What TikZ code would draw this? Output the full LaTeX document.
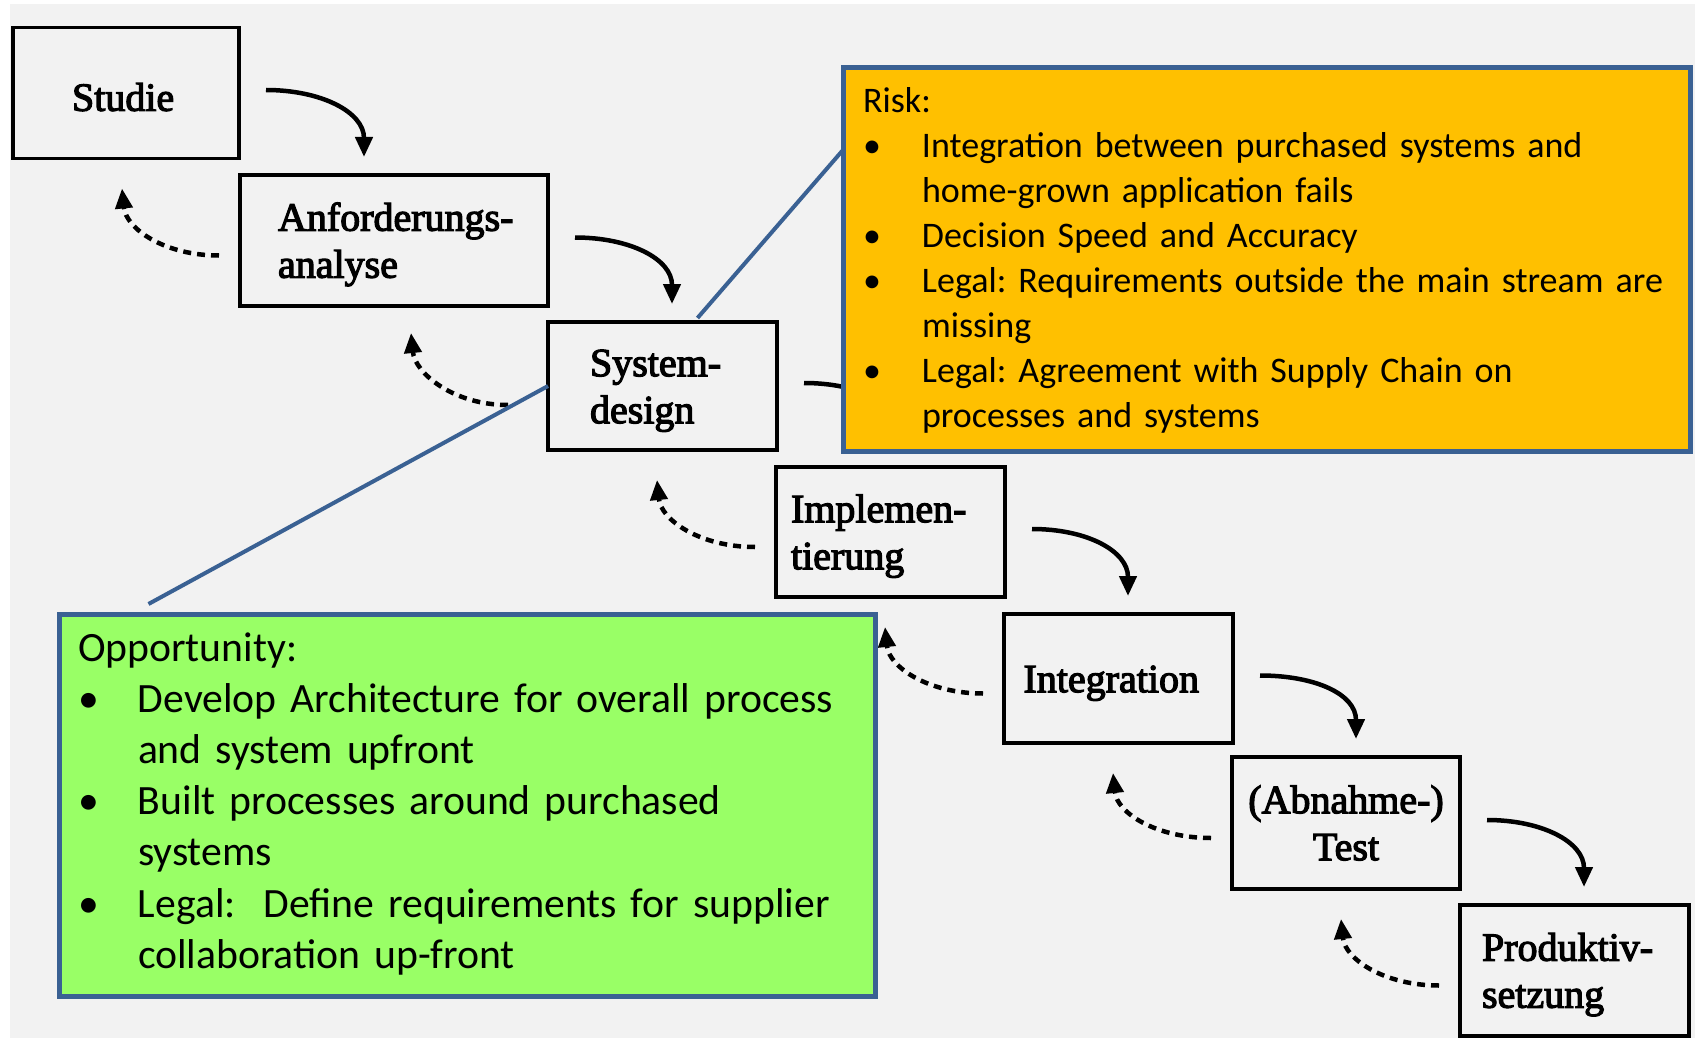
\documentclass[tikz,border=0pt]{standalone}
\usepackage{fontspec}
\setmainfont{Liberation Serif}
\newfontfamily\stepfont{Liberation Serif}[FakeBold=3]
\newfontfamily\notefont{Carlito}
\usetikzlibrary{arrows.meta,calc}

\definecolor{pagegray}{HTML}{F2F2F2}
\definecolor{frameblue}{HTML}{3A6193}
\definecolor{riskorange}{HTML}{FFC000}
\definecolor{oppgreen}{HTML}{99FF66}

% bullet with a fixed indent, and the matching indent for wrapped lines
\newcommand{\bul}[1]{\makebox[#1][l]{•}}
\newcommand{\ind}[1]{\hspace*{#1}}

\begin{document}
\frenchspacing
\begin{tikzpicture}[x=1pt,y=-1pt,
  stepbox/.style={draw=black, line width=3.5pt, rectangle, inner sep=0pt, outer sep=0pt,
    align=left, font=\stepfont\fontsize{40pt}{47pt}\selectfont,
    execute at begin node={\rule{0pt}{36pt}}},
  fwd/.style={line width=4.5pt, -{Triangle[length=20pt,width=17pt]}},
  back/.style={line width=4.5pt, dash pattern=on 8pt off 6pt, -{Triangle[length=20pt,width=17pt]}},
  notebox/.style={draw=frameblue, line width=5pt, rectangle, inner sep=0pt, outer sep=0pt, anchor=north west},
  notetext/.style={anchor=base west, inner sep=0pt, outer sep=0pt, align=left},
  callout/.style={draw=frameblue, line width=4pt}]

% canvas
\useasboundingbox (0,0) rectangle (1695,1038);
\fill[white] (0,0) rectangle (1695,1038);
\fill[pagegray] (10,4) rectangle (1695,1038);

% phases (text width = box width minus the left/right padding)
\node[stepbox, minimum width=226pt, minimum height=131pt, text width=108pt] (studie) at (126,93) {Studie};
\node[stepbox, minimum width=308pt, minimum height=131pt, text width=232pt] (anf) at (394,240.5) {\mbox{Anforderungs-}\\analyse};
\node[stepbox, minimum width=229pt, minimum height=128pt, text width=145pt] (sys) at (662.5,386) {\mbox{System-}\\design};
\node[stepbox, minimum width=229pt, minimum height=130pt, text width=199pt] (impl) at (890.5,532) {\mbox{Implemen-}\\tierung};
\node[stepbox, minimum width=229pt, minimum height=129pt, text width=190pt] (integ) at (1118.5,678.5) {Integration};
\node[stepbox, minimum width=228pt, minimum height=132pt, align=center] (test) at (1346,823) {(Abnahme-)\\Test};
\node[stepbox, minimum width=229pt, minimum height=131pt, text width=185pt] (prod) at (1574.5,970.5) {\mbox{Produktiv-}\\setzung};

% forward transitions
\foreach \a/\b in {studie/anf, anf/sys, sys/impl, impl/integ, integ/test, test/prod}
  \draw[fwd] ($(\a.east)+(27,-3)$) .. controls +(55,0) and +(0,-45) .. ($(\b.north west)+(124,-18)$);

% feedback transitions
\draw[back] ($(anf.west)+(-21,15)$) .. controls +(-55,0) and +(4,40) .. ($(studie.south west)+(109,30)$);
\draw[back] ($(sys.west)+(-40,19)$) .. controls +(-55,0) and +(4,40) .. ($(anf.south west)+(171,27)$);
\foreach \a/\b in {impl/sys, integ/impl, test/integ, prod/test}
  \draw[back] ($(\a.west)+(-21,15)$) .. controls +(-55,0) and +(4,40) .. ($(\b.south west)+(109,30)$);

% risk note
\node[notebox, fill=riskorange, minimum width=847.5pt, minimum height=383pt] (risk) at (843,68) {};
\node[notetext, text width=820pt, font=\notefont\fontsize{36pt}{44.9pt}\selectfont] (risktext) at (863,113)
  {Risk:\\
   \bul{59pt}Integration between purchased systems and\\
   \ind{59pt}home-grown application fails\\
   \bul{59pt}Decision Speed and Accuracy\\
   \bul{59pt}Legal: Requirements outside the main stream are\\
   \ind{59pt}missing\\
   \bul{59pt}Legal: Agreement with Supply Chain on\\
   \ind{59pt}processes and systems};

% opportunity note
\node[notebox, fill=oppgreen, minimum width=815.5pt, minimum height=382.5pt] (opp) at (59.5,614) {};
\node[notetext, text width=790pt, font=\notefont\fontsize{41.7pt}{51.2pt}\selectfont] (opptext) at (78,661)
  {Opportunity:\\
   \bul{60pt}Develop Architecture for overall process\\
   \ind{60pt}and system upfront\\
   \bul{60pt}Built processes around purchased\\
   \ind{60pt}systems\\
   \bul{60pt}Legal:~ Define requirements for supplier\\
   \ind{60pt}collaboration up-front};

% callout lines
\coordinate (riskpin) at ($(risk.north west)+(0,82)$);
\draw[callout] (riskpin) -- ($(sys.north)+(35,-4)$);
\draw[callout] (sys.west) -- ($(opp.north west)+(89,-10)$);
\end{tikzpicture}
\end{document}
